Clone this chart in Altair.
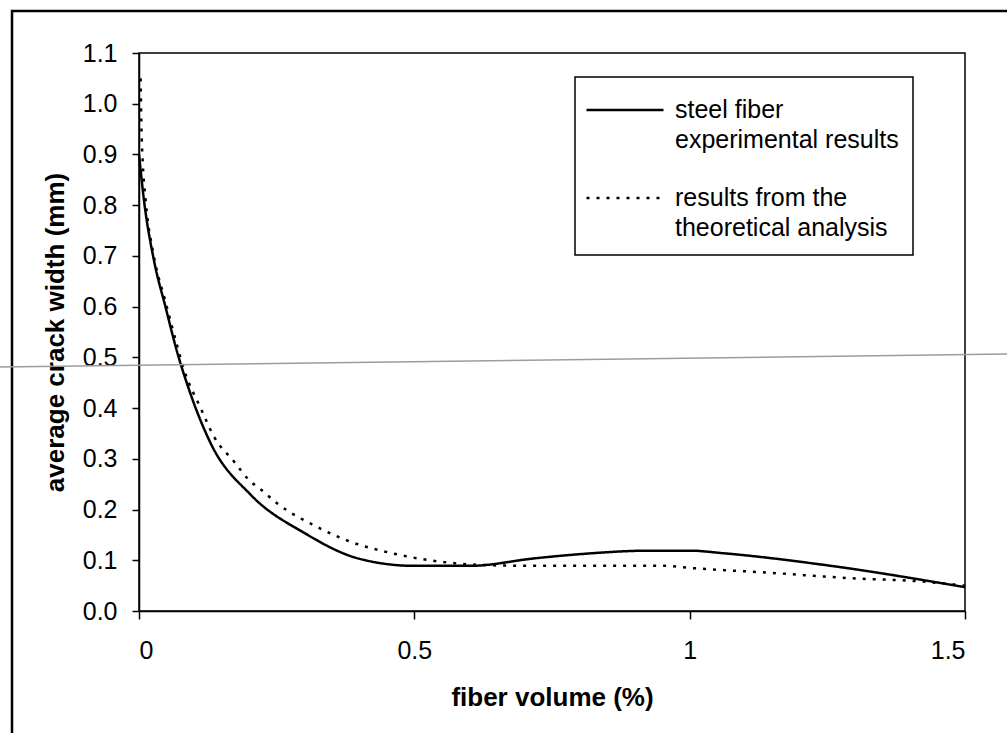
import altair as alt
import pandas as pd

exp_x = [0.0, 0.009, 0.027, 0.048, 0.070, 0.091, 0.130, 0.203, 0.30, 0.40, 0.50, 0.60, 0.72, 0.80, 0.93, 1.00, 1.06, 1.25, 1.50]
exp_y = [0.90, 0.81, 0.692, 0.60, 0.508, 0.436, 0.331, 0.229, 0.154, 0.103, 0.089, 0.089, 0.104, 0.112, 0.119, 0.119, 0.114, 0.090, 0.047]

# theoretical analysis curve
theo_x = [0.003, 0.004, 0.005, 0.007, 0.012, 0.027, 0.048, 0.070, 0.082, 0.112, 0.136, 0.173, 0.20, 0.223, 0.25, 0.323, 0.383, 0.459, 0.549, 0.617, 0.715, 0.955, 1.0, 1.151, 1.287, 1.423, 1.5]
theo_y = [1.05, 0.975, 0.93, 0.88, 0.81, 0.70, 0.61, 0.52, 0.475, 0.40, 0.344, 0.294, 0.258, 0.238, 0.213, 0.166, 0.137, 0.114, 0.097, 0.091, 0.089, 0.089, 0.085, 0.075, 0.065, 0.058, 0.05]

series_names = ["steel fiber\nexperimental results", "results from the\ntheoretical analysis"]
x_ticks = [0, 0.5, 1, 1.5]
y_ticks = [0.0, 0.1, 0.2, 0.3, 0.4, 0.5, 0.6, 0.7, 0.8, 0.9, 1.0, 1.1]

rows = []
for i, (xs, ys) in enumerate([(exp_x, exp_y), (theo_x, theo_y)]):
    for j, (a, b) in enumerate(zip(xs, ys)):
        rows.append({"fiber": a, "crack": b, "series": series_names[i], "order": j})
df = pd.DataFrame(rows)

FONT = "Liberation Sans"

lines = alt.Chart(df).mark_line(interpolate="monotone", strokeWidth=2.5, color="black", strokeCap="butt").encode(
    x=alt.X("fiber:Q", scale=alt.Scale(domain=[0, 1.5], nice=False),
            axis=alt.Axis(values=x_ticks, format=".1~f", title="fiber volume (%)",
                          tickSize=8, labelPadding=19, titleBaseline="alphabetic", titleY=94)),
    y=alt.Y("crack:Q", scale=alt.Scale(domain=[0, 1.1], nice=False),
            axis=alt.Axis(values=y_ticks, format=".1f", title="average crack width (mm)",
                          tickSize=7, labelPadding=15, titleBaseline="alphabetic",
                          titleX=-76, titleY=279, titleAngle=270, titleAlign="center")),
    strokeDash=alt.StrokeDash("series:N",
                              scale=alt.Scale(domain=series_names, range=[[1, 0], [3, 7]]),
                              legend=alt.Legend(title=None, orient="none", legendX=446, legendY=17,
                                                symbolType="stroke", symbolSize=5929,
                                                symbolStrokeColor="black", symbolStrokeWidth=2.5,
                                                labelExpr="split(datum.label, '\\n')",
                                                labelFontSize=25, labelFont=FONT,
                                                labelColor="black", labelLimit=500, labelOffset=10,
                                                padding=0, rowPadding=5,
                                                labelBaseline="middle")),
    order="order:Q",
)

frame = alt.Chart(alt.Data(values=[{}])).mark_rect(fill=None, stroke="black", strokeWidth=2.5).encode(
    x=alt.value(-127), x2=alt.value(885), y=alt.value(-42), y2=alt.value(700)
)

legend_box = alt.Chart(alt.Data(values=[{}])).mark_rect(fill=None, stroke="black", strokeWidth=1.5).encode(
    x=alt.value(436), x2=alt.value(774), y=alt.value(24), y2=alt.value(202)
)

scan_line = alt.Chart(alt.Data(values=[{}])).mark_rule(color="#9c9c9c", strokeWidth=1.5).encode(
    x=alt.value(-139), x2=alt.value(868), y=alt.value(314), y2=alt.value(301)
)

chart = alt.layer(frame, legend_box, lines, scan_line).properties(
    width=826, height=558,
    autosize=alt.AutoSizeParams(type="none"),
    padding={"left": 139, "top": 53, "right": 42, "bottom": 122},
    background="white",
).configure_view(stroke="black", strokeWidth=1.5).configure_axis(
    grid=False, domainColor="black", domainWidth=1.5, tickColor="black", tickWidth=1.5,
    labelFont=FONT, labelFontSize=25, labelColor="black",
    titleFont=FONT, titleFontSize=26, titleFontWeight="bold", titleColor="black",
)
chart.config.style = {"guide-label": {"lineHeight": 30}}

chart.save("out.html", embed_options={"renderer": "svg", "actions": False})
